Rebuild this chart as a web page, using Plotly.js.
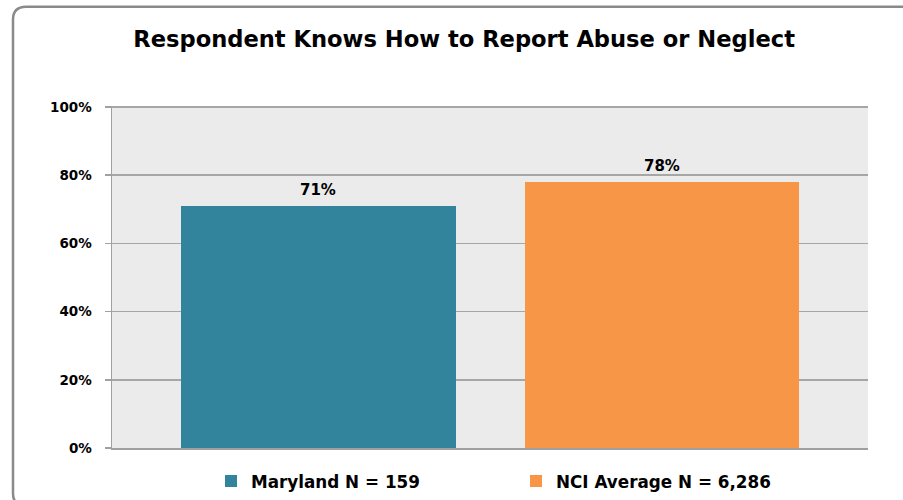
<!DOCTYPE html>
<html>
<head>
<meta charset="utf-8">
<script src="https://cdn.plot.ly/plotly-3.0.1.min.js"></script>
<style>
html,body{margin:0;padding:0;background:#fff;}
#chart{width:903px;height:500px;}
</style>
</head>
<body>
<div id="chart"></div>
<script>
const seriesNames = ["Maryland N = 159", "NCI Average N = 6,286"];
const seriesValues = [0.71, 0.78];
const valueLabels = ["71%", "78%"];
const seriesColors = ["#31849B", "#F79646"];
const tickVals = [0, 0.2, 0.4, 0.6, 0.8, 1.0];
const tickText = ["0%", "20%", "40%", "60%", "80%", "100%"];

const traces = seriesNames.map((name, i) => ({
  type: "bar",
  name: name,
  x: [name],
  y: [seriesValues[i]],
  width: 0.8,
  marker: {color: seriesColors[i]},
  hoverinfo: "skip"
}));

// plot area in px: x 112-868, y 107-448
const L = 112, R = 868, T = 107, B = 448;
const px = v => (v - L) / (R - L);
const py = v => (B - v) / (B - T);
const rad = 13;
const bx0 = px(13), by0 = py(8), bx1 = px(915), by1 = py(506);
const rx = rad / (R - L), ry = rad / (B - T);
const borderPath =
  `M ${bx1},${by0} L ${bx0 + rx},${by0} Q ${bx0},${by0} ${bx0},${by0 - ry} ` +
  `L ${bx0},${by1 + ry} Q ${bx0},${by1} ${bx0 + rx},${by1} L ${bx1},${by1}`;

const annotations = seriesNames.map((name, i) => ({
  x: name, y: seriesValues[i], xref: "x", yref: "y",
  text: valueLabels[i], showarrow: false,
  yanchor: "bottom", yshift: 5,
  font: {family: "DejaVu Sans", size: 15, color: "#000", weight: "bold"}
}));

const layout = {
  width: 903, height: 500,
  margin: {l: L, r: 903 - R, t: T - 1, b: 500 - B, pad: 0, autoexpand: false},
  paper_bgcolor: "#ffffff",
  plot_bgcolor: "#EBEBEB",
  title: {
    text: "Respondent Knows How to Report Abuse or Neglect",
    font: {family: "DejaVu Sans", size: 22.6, color: "#000", weight: "bold"},
    x: 0.514, xref: "container", xanchor: "center",
    y: 1 - 39 / 500, yref: "container", yanchor: "middle"
  },
  showlegend: true,
  legend: {
    orientation: "h",
    x: px(516), xanchor: "center",
    y: py(481), yanchor: "middle",
    font: {family: "DejaVu Sans", size: 16.8, color: "#000", weight: "bold"},
    itemwidth: 30,
    entrywidth: 260,
    bgcolor: "rgba(0,0,0,0)"
  },
  bargap: 0,
  xaxis: {
    type: "category",
    range: [-0.601, 1.6],
    showticklabels: false,
    ticks: "",
    showgrid: false,
    showline: true, linecolor: "#a0a0a0", linewidth: 1.5,
    zeroline: false,
    fixedrange: true
  },
  yaxis: {
    range: [0, 1.003],
    tickvals: tickVals,
    ticktext: tickText,
    ticks: "outside", ticklen: 6, tickcolor: "#a0a0a0", tickwidth: 1.5,
    ticklabelstandoff: 10,
    showline: true, linecolor: "#a0a0a0", linewidth: 1.5,
    showgrid: true, gridcolor: "#a6a6a6", gridwidth: 1.5,
    zeroline: false,
    tickfont: {family: "DejaVu Sans", size: 13.5, color: "#000", weight: "bold"},
    fixedrange: true
  },
  annotations: annotations,
  shapes: [{
    type: "path", xref: "paper", yref: "paper",
    path: borderPath,
    line: {color: "#8a8a8a", width: 2.5}
  }]
};

Plotly.newPlot("chart", traces, layout, {displayModeBar: false, staticPlot: true});
</script>
</body>
</html>
